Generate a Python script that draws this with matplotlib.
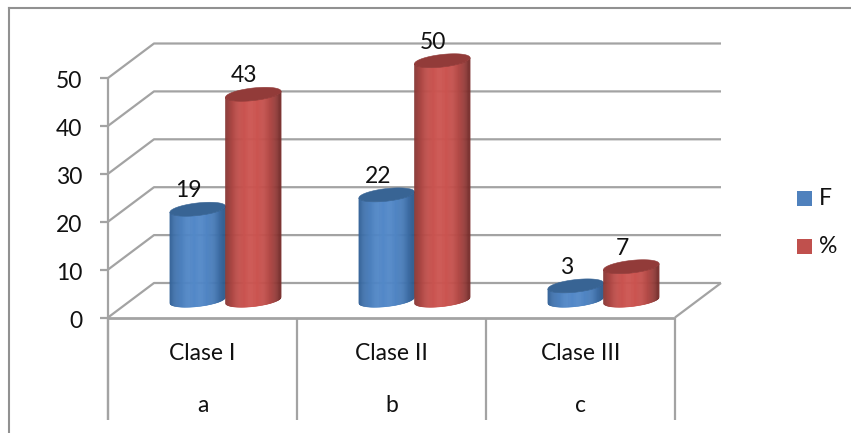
import numpy as np
import matplotlib
matplotlib.use("Agg")
import matplotlib.pyplot as plt
from matplotlib.lines import Line2D
from matplotlib.patches import Rectangle, Polygon

categories = ["Clase I", "Clase II", "Clase III"]
subcategories = ["a", "b", "c"]
series_names = ["F", "%"]
f_values = [19, 22, 3]
pct_values = [43, 50, 7]
y_ticks = [0, 10, 20, 30, 40, 50]

W, H = 851, 433
plt.rcParams["font.family"] = ["Lato", "DejaVu Sans"]
fig = plt.figure(figsize=(W / 100, H / 100), dpi=100)
ax = fig.add_axes([108 / W, (H - 317.5) / H, 567 / W, 239.5 / H])
ax.set_xlim(0, 3)
ax.set_ylim(0, 50)
ax.axis("off")

PX = 189.0            # pixels per category
PY = 239.5 / 50       # pixels per value unit
DX, DY = 46 / PX, 34.5 / PY
GRID = "#A3A3A3"
FS = 16.5


def line(xs, ys, lw=1.6, z=1, c=GRID):
    ax.plot(xs, ys, color=c, lw=lw, clip_on=False, zorder=z, solid_capstyle="butt")


# walls and gridlines
for v in y_ticks:
    line([0, DX, 3 + DX], [v, v + DY, v + DY])
    line([-8 / PX, 0], [v, v])
    ax.text(-25.5 / PX, v - 1.5 / PY, str(v), ha="right", va="center_baseline", fontsize=FS, color="#111111")
line([0, 0], [-21.4, 50])
line([0, 3], [0, 0], lw=2)
line([3, 3 + DX], [0, DY])
for i in range(4):
    line([i, i], [-21.4, 0])
for i, (c, s) in enumerate(zip(categories, subcategories)):
    ax.text(i + 0.5, -7.6, c, ha="center", va="center", fontsize=FS, color="#111111")
    ax.text(i + 0.5, -18.4, s, ha="center", va="center", fontsize=FS, color="#111111")


def cylinder(xc, value, light, dark, top, z):
    """xc in category units, at mid depth of the chart."""
    a = 27.8 / PX
    b = 6.3 / PY
    s = 3.0 / PY
    y0 = DY / 2
    y1 = y0 + value
    us = np.linspace(-1, 1, 61)
    light, dark = np.array(matplotlib.colors.to_rgb(light)), np.array(matplotlib.colors.to_rgb(dark))
    for u0, u1 in zip(us[:-1], us[1:]):
        uu = np.linspace(u0, u1, 4)
        low = -b * np.sqrt(1 - uu ** 2) + s * uu
        um = (u0 + u1) / 2
        t = 1 - abs(um + 0.05) ** 2.6
        col = dark + (light - dark) * np.clip(t, 0, 1)
        xs = np.r_[xc + a * uu, xc + a * uu[::-1]]
        ys = np.r_[y0 + low, (y1 + low)[::-1]]
        ax.add_patch(Polygon(np.c_[xs, ys], closed=True, fc=col, ec=col, lw=0.4, clip_on=False, zorder=z))
    th = np.linspace(0, 2 * np.pi, 80)
    ax.add_patch(Polygon(np.c_[xc + a * np.cos(th), y1 + b * np.sin(th) + s * np.cos(th)],
                         closed=True, fc=top, ec=top, lw=0.4, clip_on=False, zorder=z + 0.5))


BLUE = ("#5288C8", "#2E5B8E", "#386494")
RED = ("#CC5450", "#7A302E", "#923B39")
OFF = 0.147
for i in range(3):
    xc = i + 0.5 + DX / 2
    cylinder(xc - OFF, f_values[i], *BLUE, z=3 + i)
    cylinder(xc + OFF, pct_values[i], *RED, z=3.7 + i)
    for xo, v in ((xc - OFF, f_values[i]), (xc + OFF, pct_values[i])):
        ax.text(xo - 9 / PX, DY / 2 + v + 18.5 / PY, str(v), ha="center", va="center",
                fontsize=FS, color="#111111", zorder=10, clip_on=False)

# outer chart frame
for xs, ys in (([8.5, 8.5], [433, 7.5]), ([8.5, 851], [7.5, 7.5])):
    fig.add_artist(Line2D(np.array(xs) / W, 1 - np.array(ys) / H, color="#919191", lw=1.5))

# legend
for y, name, col in ((198.3, series_names[0], "#4F81BD"), (246.3, series_names[1], "#C0504D")):
    fig.add_artist(Rectangle((797 / W, 1 - (y + 7.4) / H), 14.8 / W, 14.8 / H, fc=col, ec="none",
                             transform=fig.transFigure))
    fig.text(819 / W, 1 - y / H, name, ha="left", va="center", fontsize=FS, color="#111111")

fig.savefig("out.png", dpi=100, facecolor="white")
